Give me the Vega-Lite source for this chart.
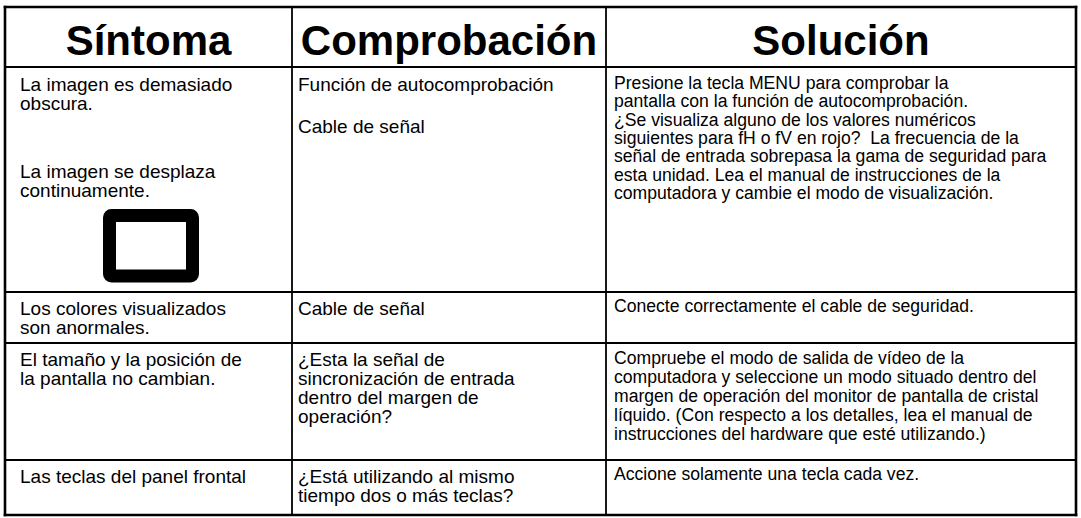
{
  "$schema": "https://vega.github.io/schema/vega-lite/v6.json",
  "width": 1081,
  "height": 518,
  "autosize": {"type": "fit", "contains": "padding"},
  "padding": 0,
  "background": "white",
  "config": {"view": {"stroke": null}, "axis": {"disable": true}},
  "datasets": {
    "lines": [
      {"x": 5, "x2": 1076, "y": 7, "y2": 7, "w": "outer"},
      {"x": 5, "x2": 1076, "y": 515, "y2": 515, "w": "outer"},
      {"x": 5, "x2": 5, "y": 7, "y2": 515, "w": "outer"},
      {"x": 1076, "x2": 1076, "y": 7, "y2": 515, "w": "outer"},
      {"x": 5, "x2": 1076, "y": 67, "y2": 67, "w": "inner"},
      {"x": 5, "x2": 1076, "y": 292, "y2": 292, "w": "inner"},
      {"x": 5, "x2": 1076, "y": 343, "y2": 343, "w": "inner"},
      {"x": 5, "x2": 1076, "y": 460, "y2": 460, "w": "inner"},
      {"x": 292, "x2": 292, "y": 7, "y2": 515, "w": "inner"},
      {"x": 606, "x2": 606, "y": 7, "y2": 515, "w": "inner"}
    ],
    "icon": [
      {"x": 109.5, "x2": 192.5, "y": 215.5, "y2": 276}
    ],
    "headers": [
      {"x": 148.5, "y": 55, "text": "Síntoma"},
      {"x": 449, "y": 55, "text": "Comprobación"},
      {"x": 841, "y": 55, "text": "Solución"}
    ],
    "cells": [
      {"col": "Síntoma", "x": 20, "y": 85, "text": "La imagen es demasiado"},
      {"col": "Síntoma", "x": 20, "y": 104, "text": "obscura."},
      {"col": "Síntoma", "x": 20, "y": 172, "text": "La imagen se desplaza"},
      {"col": "Síntoma", "x": 20, "y": 191, "text": "continuamente."},
      {"col": "Síntoma", "x": 20, "y": 309, "text": "Los colores visualizados"},
      {"col": "Síntoma", "x": 20, "y": 328, "text": "son anormales."},
      {"col": "Síntoma", "x": 20, "y": 360, "text": "El tamaño y la posición de"},
      {"col": "Síntoma", "x": 20, "y": 379, "text": "la pantalla no cambian."},
      {"col": "Síntoma", "x": 20, "y": 477, "text": "Las teclas del panel frontal"},
      {"col": "Comprobación", "x": 298, "y": 85, "text": "Función de autocomprobación"},
      {"col": "Comprobación", "x": 298, "y": 127, "text": "Cable de señal"},
      {"col": "Comprobación", "x": 298, "y": 309, "text": "Cable de señal"},
      {"col": "Comprobación", "x": 298, "y": 360, "text": "¿Esta la señal de"},
      {"col": "Comprobación", "x": 298, "y": 379, "text": "sincronización de entrada"},
      {"col": "Comprobación", "x": 298, "y": 398, "text": "dentro del margen de"},
      {"col": "Comprobación", "x": 298, "y": 417, "text": "operación?"},
      {"col": "Comprobación", "x": 298, "y": 477, "text": "¿Está utilizando al mismo"},
      {"col": "Comprobación", "x": 298, "y": 496, "text": "tiempo dos o más teclas?"},
      {"col": "Solución", "x": 614, "y": 84, "text": "Presione la tecla MENU para comprobar la"},
      {"col": "Solución", "x": 614, "y": 102.3, "text": "pantalla con la función de autocomprobación."},
      {"col": "Solución", "x": 614, "y": 120.6, "text": "¿Se visualiza alguno de los valores numéricos"},
      {"col": "Solución", "x": 614, "y": 138.9, "text": "siguientes para fH o fV en rojo? \u00a0La frecuencia de la"},
      {"col": "Solución", "x": 614, "y": 157.2, "text": "señal de entrada sobrepasa la gama de seguridad para"},
      {"col": "Solución", "x": 614, "y": 175.5, "text": "esta unidad. Lea el manual de instrucciones de la"},
      {"col": "Solución", "x": 614, "y": 193.8, "text": "computadora y cambie el modo de visualización."},
      {"col": "Solución", "x": 614, "y": 307, "text": "Conecte correctamente el cable de seguridad."},
      {"col": "Solución", "x": 614, "y": 359, "text": "Compruebe el modo de salida de vídeo de la"},
      {"col": "Solución", "x": 614, "y": 378, "text": "computadora y seleccione un modo situado dentro del"},
      {"col": "Solución", "x": 614, "y": 397, "text": "margen de operación del monitor de pantalla de cristal"},
      {"col": "Solución", "x": 614, "y": 416, "text": "líquido. (Con respecto a los detalles, lea el manual de"},
      {"col": "Solución", "x": 614, "y": 435, "text": "instrucciones del hardware que esté utilizando.)"},
      {"col": "Solución", "x": 614, "y": 475, "text": "Accione solamente una tecla cada vez."}
    ]
  },
  "layer": [
    {
      "data": {"name": "lines"},
      "mark": {"type": "rule", "color": "black", "strokeCap": "square"},
      "encoding": {
        "x": {"field": "x", "type": "quantitative", "scale": {"domain": [0, 1081], "nice": false, "zero": false}, "axis": null},
        "x2": {"field": "x2"},
        "y": {"field": "y", "type": "quantitative", "scale": {"domain": [0, 518], "nice": false, "zero": false, "reverse": true}, "axis": null},
        "y2": {"field": "y2"},
        "strokeWidth": {"field": "w", "type": "nominal", "scale": {"domain": ["outer", "inner"], "range": [2.6, 1.8]}, "legend": null}
      }
    },
    {
      "data": {"name": "icon"},
      "mark": {"type": "rect", "fill": null, "stroke": "black", "strokeWidth": 13, "strokeJoin": "round", "cornerRadius": 2},
      "encoding": {
        "x": {"field": "x", "type": "quantitative"},
        "x2": {"field": "x2"},
        "y": {"field": "y", "type": "quantitative"},
        "y2": {"field": "y2"}
      }
    },
    {
      "data": {"name": "headers"},
      "mark": {"type": "text", "font": "Liberation Sans", "fontWeight": "bold", "fontSize": 42, "align": "center", "baseline": "alphabetic", "color": "black"},
      "encoding": {
        "x": {"field": "x", "type": "quantitative"},
        "y": {"field": "y", "type": "quantitative"},
        "text": {"field": "text"}
      }
    },
    {
      "data": {"name": "cells"},
      "transform": [{"filter": "datum.col !== 'Solución'"}],
      "mark": {"type": "text", "font": "Liberation Sans", "fontSize": 19, "align": "left", "baseline": "middle", "color": "black"},
      "encoding": {
        "x": {"field": "x", "type": "quantitative"},
        "y": {"field": "y", "type": "quantitative"},
        "text": {"field": "text"}
      }
    },
    {
      "data": {"name": "cells"},
      "transform": [{"filter": "datum.col === 'Solución'"}],
      "mark": {"type": "text", "font": "Liberation Sans", "fontSize": 17.6, "align": "left", "baseline": "middle", "color": "black"},
      "encoding": {
        "x": {"field": "x", "type": "quantitative"},
        "y": {"field": "y", "type": "quantitative"},
        "text": {"field": "text"}
      }
    }
  ]
}
